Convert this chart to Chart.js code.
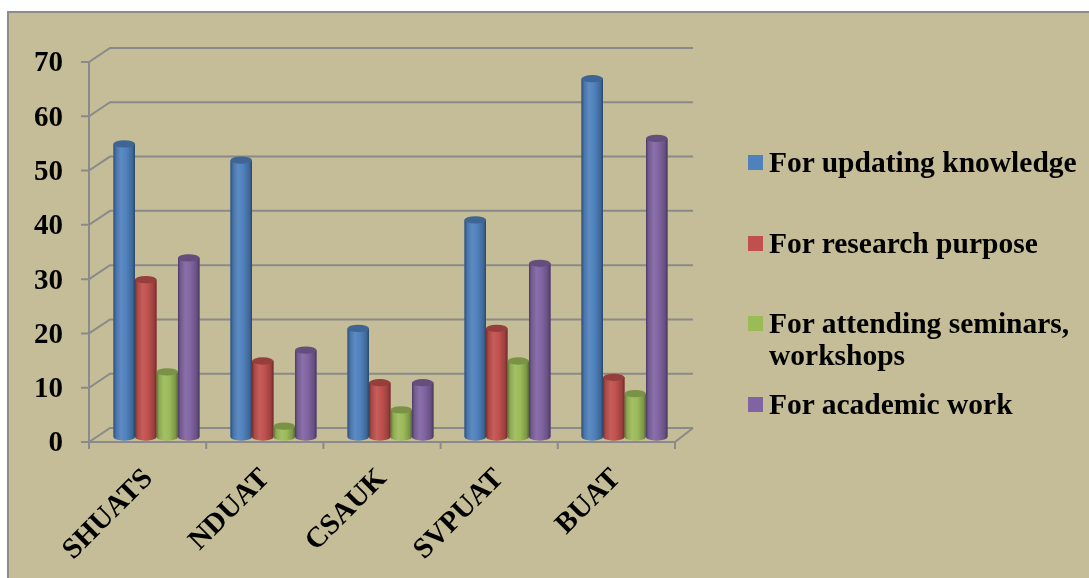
<!DOCTYPE html>
<html>
<head>
<meta charset="utf-8">
<script src="https://cdn.jsdelivr.net/npm/chart.js@4/dist/chart.umd.min.js"></script>
<style>
  html, body { margin:0; padding:0; background:#fff; }
  #wrap { position:relative; width:1089px; height:578px; overflow:hidden; }
  #box { position:absolute; left:7px; top:11px; right:0; bottom:0; background:#c4bd97;
         border-left:2px solid #8c8c8c; border-top:2px solid #8c8c8c; }
  #chart { position:absolute; left:0; top:0; }
  #legend { position:absolute; left:748px; top:0; font:bold 29.5px "Liberation Serif", "Times New Roman", serif; color:#000; }
  .item { position:absolute; left:0; white-space:nowrap; line-height:32px; }
  .sw { position:absolute; left:0; width:15px; height:15px; }
  .txt { position:absolute; left:21px; }
</style>
</head>
<body>
<div id="wrap">
  <div id="box"></div>
  <canvas id="chart" width="1089" height="578"></canvas>
  <div id="legend"></div>
</div>
<script>
const categories = ["SHUATS", "NDUAT", "CSAUK", "SVPUAT", "BUAT"];
const updatingKnowledge = [54, 51, 20, 40, 66];
const researchPurpose = [29, 14, 10, 20, 11];
const seminarsWorkshops = [12, 2, 5, 14, 8];
const academicWork = [33, 16, 10, 32, 55];
const seriesNames = ["For updating knowledge", "For research purpose", ["For attending seminars,", "workshops"], "For academic work"];
const seriesColors = ["#4f81bd", "#c0504d", "#9bbb59", "#8064a2"];
const yMin = 0, yMax = 70, yStep = 10;

const seriesValues = [updatingKnowledge, researchPurpose, seminarsWorkshops, academicWork];
const gridColor = "#8a8a8a";

function shade(hex, f){
  // f<0 darken, f>0 lighten
  const n = parseInt(hex.slice(1), 16);
  let r = n >> 16, g = (n >> 8) & 255, b = n & 255;
  const t = f < 0 ? 0 : 255, p = Math.abs(f);
  r = Math.round((t - r) * p + r); g = Math.round((t - g) * p + g); b = Math.round((t - b) * p + b);
  return `rgb(${r},${g},${b})`;
}

// back wall / floor lines, offset to fake the 3D depth
const wallPlugin = {
  id: "wall",
  beforeDatasetsDraw(chart){
    const ctx = chart.ctx, y = chart.scales.y, a = chart.chartArea;
    const fx = a.left - 9, bx = a.left + 12, fxR = a.right - 8, bxR = a.right + 10;
    const fdy = 5, bdy = -9;
    ctx.save();
    ctx.strokeStyle = gridColor;
    ctx.lineWidth = 2;
    ctx.beginPath();
    y.ticks.forEach(t => {
      const py = y.getPixelForValue(t.value);
      ctx.moveTo(fx - 8, py + fdy); ctx.lineTo(fx, py + fdy);
      ctx.lineTo(bx, py + bdy); ctx.lineTo(bxR, py + bdy);
    });
    const p0 = y.getPixelForValue(yMin), pT = y.getPixelForValue(yMax);
    ctx.moveTo(fx, pT + fdy); ctx.lineTo(fx, p0 + fdy + 7);
    ctx.moveTo(fx, p0 + fdy); ctx.lineTo(fxR, p0 + fdy); ctx.lineTo(bxR, p0 + bdy);
    for(let i = 1; i <= categories.length; i++){
      const tx = fx + i * (fxR - fx) / categories.length;
      ctx.moveTo(tx, p0 + fdy); ctx.lineTo(tx, p0 + fdy + 7);
    }
    ctx.stroke();
    ctx.restore();
  },
  afterDatasetsDraw(chart){
    const ctx = chart.ctx;
    ctx.save();
    chart.data.datasets.forEach((ds, di) => {
      const meta = chart.getDatasetMeta(di);
      const c = seriesColors[di];
      meta.data.forEach(el => {
        const w = el.width, x0 = el.x - w / 2, top = el.y, base = el.base;
        const rx = w / 2, ry = w * 0.17;
        const g = ctx.createLinearGradient(x0, 0, x0 + w, 0);
        g.addColorStop(0, shade(c, -0.4));
        g.addColorStop(0.12, shade(c, -0.1));
        g.addColorStop(0.35, shade(c, 0.08));
        g.addColorStop(0.6, c);
        g.addColorStop(0.88, shade(c, -0.2));
        g.addColorStop(1, shade(c, -0.45));
        ctx.fillStyle = g;
        ctx.beginPath();
        ctx.moveTo(x0, top);
        ctx.lineTo(x0, base);
        ctx.ellipse(el.x, base, rx, ry, 0, Math.PI, 0, true);
        ctx.lineTo(x0 + w, top);
        ctx.closePath();
        ctx.fill();
        ctx.fillStyle = shade(c, -0.22);
        ctx.beginPath();
        ctx.ellipse(el.x, top, rx, ry, 0, 0, Math.PI * 2);
        ctx.fill();
      });
    });
    ctx.restore();
  }
};

const tickFont = { family: "'Liberation Serif', 'Times New Roman', serif", size: 29, weight: "bold" };

new Chart(document.getElementById("chart"), {
  type: "bar",
  data: {
    labels: categories,
    datasets: seriesValues.map((v, i) => ({
      label: Array.isArray(seriesNames[i]) ? seriesNames[i].join(" ") : seriesNames[i],
      data: v,
      backgroundColor: seriesColors[i],
      borderWidth: 0,
      categoryPercentage: 0.735,
      barPercentage: 1
    }))
  },
  options: {
    responsive: false,
    animation: false,
    layout: { padding: { left: 10, top: 57, right: 406, bottom: 10 } },
    plugins: { legend: { display: false }, tooltip: { enabled: false } },
    scales: {
      x: {
        grid: { display: false },
        border: { display: false },
        ticks: { color: "#000", font: tickFont, minRotation: 45, maxRotation: 45, autoSkip: false, padding: 17, labelOffset: -8 },
        afterFit(s){ s.height = 578 - 437 - 10; }
      },
      y: {
        min: yMin, max: yMax,
        grid: { display: false },
        border: { display: false },
        ticks: { stepSize: yStep, color: "#000", font: tickFont, padding: 27, labelOffset: 7 },
        afterFit(s){ s.width = 88; }
      }
    }
  },
  plugins: [wallPlugin]
});

// legend
const legendTops = [162, 243, 323, 404];
const legendEl = document.getElementById("legend");
seriesNames.forEach((name, i) => {
  const lines = Array.isArray(name) ? name : [name];
  const item = document.createElement("div");
  item.className = "item";
  item.style.top = (legendTops[i] - 16) + "px";
  item.innerHTML = `<div class="sw" style="top:9px;background:${seriesColors[i]}"></div><div class="txt">${lines.join("<br>")}</div>`;
  legendEl.appendChild(item);
});
</script>
</body>
</html>
